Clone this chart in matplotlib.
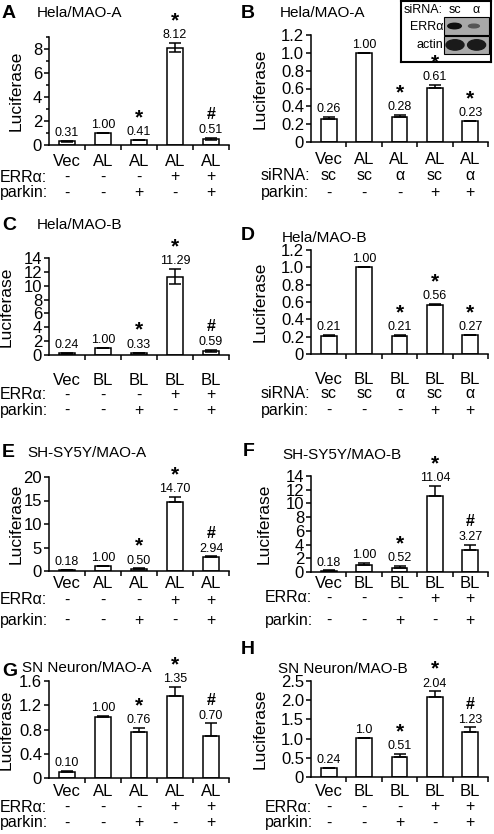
"""
Luciferase reporter panels A-H (MAO-A / MAO-B promoters), ERRalpha / parkin / siRNA.
Saves out.png at 494x834 px.
"""
import matplotlib.pyplot as plt
import matplotlib.transforms as mtrans
from matplotlib.patches import Rectangle, Ellipse
from matplotlib.ticker import FixedLocator

plt.rcParams['font.family'] = ['Liberation Sans', 'DejaVu Sans']

W, H = 494, 834

# ---- data ----
CAT_A = ["Vec", "AL", "AL", "AL", "AL"]
CAT_B = ["Vec", "BL", "BL", "BL", "BL"]
ERR_ROW = ["-", "-", "-", "+", "+"]
PARKIN_ROW = ["-", "-", "+", "-", "+"]
SIRNA_ROW = ["sc", "sc", "α", "sc", "α"]
PARKIN_SI_ROW = ["-", "-", "-", "+", "+"]

a_val = [0.31, 1.00, 0.41, 8.12, 0.51]
a_err = [0.05, 0.04, 0.03, 0.35, 0.08]
a_lab = ["0.31", "1.00", "0.41", "8.12", "0.51"]
a_sig = ["", "", "*", "*", "#"]

b_val = [0.26, 1.00, 0.28, 0.61, 0.23]
b_err = [0.02, 0.0, 0.02, 0.03, 0.004]
b_lab = ["0.26", "1.00", "0.28", "0.61", "0.23"]
b_sig = ["", "", "*", "*", "*"]

c_val = [0.24, 1.00, 0.33, 11.29, 0.59]
c_err = [0.03, 0.0, 0.03, 1.1, 0.1]
c_lab = ["0.24", "1.00", "0.33", "11.29", "0.59"]
c_sig = ["", "", "*", "*", "#"]

d_val = [0.21, 1.00, 0.21, 0.56, 0.22]
d_err = [0.01, 0.0, 0.01, 0.015, 0.004]
d_lab = ["0.21", "1.00", "0.21", "0.56", "0.27"]
d_sig = ["", "", "*", "*", "*"]

e_val = [0.18, 1.00, 0.50, 14.70, 2.90]
e_err = [0.05, 0.0, 0.05, 1.0, 0.2]
e_lab = ["0.18", "1.00", "0.50", "14.70", "2.94"]
e_sig = ["", "", "*", "*", "#"]

f_val = [0.18, 1.06, 0.58, 11.1, 3.28]
f_err = [0.05, 0.29, 0.29, 1.45, 0.68]
f_lab = ["0.18", "1.00", "0.52", "11.04", "3.27"]
f_sig = ["", "", "*", "*", "#"]

g_val = [0.10, 1.00, 0.76, 1.35, 0.70]
g_err = [0.02, 0.03, 0.07, 0.15, 0.20]
g_lab = ["0.10", "1.00", "0.76", "1.35", "0.70"]
g_sig = ["", "", "*", "*", "#"]

h_val = [0.245, 1.01, 0.52, 2.08, 1.16]
h_err = [0.0, 0.01, 0.09, 0.15, 0.13]
h_lab = ["0.24", "1.0", "0.51", "2.04", "1.23"]
h_sig = ["", "", "*", "*", "#"]

# ---- layout (pixels from top-left) ----
PANELS = [
    dict(letter="A", title="Hela/MAO-A", cats=CAT_A, h=a_val, e=a_err, lab=a_lab, sig=a_sig,
         both=True, rows=[("ERRα:", ERR_ROW), ("parkin:", PARKIN_ROW)],
         box=(49, 37, 229, 145), ymax=9, yticks=[0, 2, 4, 6, 8], minor=[1, 3, 5, 7, 9],
         ytl=["0", "2", "4", "6", "8"], ylab_x=24, let=(2, 13), tit=(37, 13),
         rowy=(162, 177, 193), rowx=0),
    dict(letter="B", title="Hela/MAO-A", cats=CAT_A, h=b_val, e=b_err, lab=b_lab, sig=b_sig,
         both=False, rows=[("siRNA:", SIRNA_ROW), ("parkin:", PARKIN_SI_ROW)],
         box=(311, 35, 488, 142), ymax=1.2, yticks=[0, .2, .4, .6, .8, 1.0, 1.2], minor=[],
         ytl=["0", "0.2", "0.4", "0.6", "0.8", "1.0", "1.2"], ylab_x=268, let=(241, 13),
         tit=(280, 13), rowy=(160, 176, 193), rowx=261),
    dict(letter="C", title="Hela/MAO-B", cats=CAT_B, h=c_val, e=c_err, lab=c_lab, sig=c_sig,
         both=True, rows=[("ERRα:", ERR_ROW), ("parkin:", PARKIN_ROW)],
         box=(49, 258, 229, 355), ymax=14, yticks=[0, 2, 4, 6, 8, 10, 12, 14], minor=[],
         ytl=["0", "2", "4", "6", "8", "10", "12", "14"], ylab_x=14, let=(2, 225),
         tit=(37, 225), rowy=(380, 395, 410), rowx=0),
    dict(letter="D", title="Hela/MAO-B", cats=CAT_B, h=d_val, e=d_err, lab=d_lab, sig=d_sig,
         both=False, rows=[("siRNA:", SIRNA_ROW), ("parkin:", PARKIN_SI_ROW)],
         box=(311, 250, 488, 354), ymax=1.2, yticks=[0, .2, .4, .6, .8, 1.0, 1.2], minor=[],
         ytl=["0", "0.2", "0.4", "0.6", "0.8", "1.0", "1.2"], ylab_x=268, let=(241, 235),
         tit=(282, 238), rowy=(379, 394, 410), rowx=261),
    dict(letter="E", title="SH-SY5Y/MAO-A", cats=CAT_A, h=e_val, e=e_err, lab=e_lab, sig=e_sig,
         both=False, rows=[("ERRα:", ERR_ROW), ("parkin:", PARKIN_ROW)],
         box=(49, 477, 229, 571), ymax=20, yticks=[0, 5, 10, 15, 20], minor=[],
         ytl=["0", "5", "10", "15", "20"], ylab_x=24, let=(2, 453), tit=(27, 453),
         rowy=(583, 600, 620), rowx=0),
    dict(letter="F", title="SH-SY5Y/MAO-B", cats=CAT_B, h=f_val, e=f_err, lab=f_lab, sig=f_sig,
         both=False, rows=[("ERRα:", ERR_ROW), ("parkin:", PARKIN_ROW)],
         box=(311, 476, 488, 572), ymax=14, yticks=[0, 2, 4, 6, 8, 10, 12, 14], minor=[],
         ytl=["0", "2", "4", "6", "8", "10", "12", "14"], ylab_x=272, let=(243, 451),
         tit=(282, 455), rowy=(583, 598, 620), rowx=265),
    dict(letter="G", title="SN Neuron/MAO-A", cats=CAT_A, h=g_val, e=g_err, lab=g_lab, sig=g_sig,
         both=False, rows=[("ERRα:", ERR_ROW), ("parkin:", PARKIN_ROW)],
         box=(49, 681, 229, 778), ymax=1.6, yticks=[0, .4, .8, 1.2, 1.6], minor=[],
         ytl=["0", "0.4", "0.8", "1.2", "1.6"], ylab_x=14, let=(2, 671), tit=(22, 668),
         rowy=(792, 807, 823), rowx=0),
    dict(letter="H", title="SN Neuron/MAO-B", cats=CAT_B, h=h_val, e=h_err, lab=h_lab, sig=h_sig,
         both=False, rows=[("ERRα:", ERR_ROW), ("parkin:", PARKIN_ROW)],
         box=(311, 681, 488, 777), ymax=2.5, yticks=[0, .5, 1.0, 1.5, 2.0, 2.5], minor=[],
         ytl=["0", "0.5", "1.0", "1.5", "2.0", "2.5"], ylab_x=268, let=(241, 650),
         tit=(278, 669), rowy=(792, 807, 823), rowx=265),
]

LW = 1.1
fig = plt.figure(figsize=(W / 100, H / 100), dpi=100)


def fx(px):
    return px / W


def fy(py):
    return 1 - py / H


for p in PANELS:
    x0, ytop, x1, ybot = p["box"]
    ax = fig.add_axes([fx(x0), fy(ybot), (x1 - x0) / W, (ybot - ytop) / H])
    ax.patch.set_visible(False)
    n = len(p["h"])
    xs = list(range(n))
    ax.bar(xs, p["h"], width=0.45, color="white", edgecolor="black", linewidth=LW, zorder=2)
    lower = p["e"] if p["both"] else [0] * n
    ax.errorbar(xs, p["h"], yerr=[lower, p["e"]], fmt="none", ecolor="black",
                elinewidth=LW, capsize=4.5, capthick=LW, zorder=3)

    # value labels and significance marks
    for i in xs:
        top = p["h"][i] + p["e"][i]
        ax.annotate(p["lab"][i], (i, top), xytext=(0, 3.5), textcoords="offset points",
                    ha="center", va="baseline", fontsize=9)
        s = p["sig"][i]
        if s == "*":
            ax.annotate("*", (i, top), xytext=(0, 12), textcoords="offset points",
                        ha="center", va="baseline", fontsize=15, fontweight="bold")
        elif s == "#":
            ax.annotate("#", (i, top), xytext=(0, 13.5), textcoords="offset points",
                        ha="center", va="baseline", fontsize=11.5, fontweight="bold")

    ax.set_xlim(-0.5, n - 0.5)
    ax.set_ylim(0, p["ymax"])
    ax.set_yticks(p["yticks"])
    ax.set_yticklabels(p["ytl"], fontsize=12)
    if p["minor"]:
        ax.yaxis.set_minor_locator(FixedLocator(p["minor"]))
    ax.set_xticks([])
    ax.xaxis.set_minor_locator(FixedLocator([i + 0.5 for i in xs]))
    ax.tick_params(axis="y", which="major", length=3.5, width=LW, pad=1.5)
    ax.tick_params(axis="y", which="minor", length=2.5, width=LW)
    ax.tick_params(axis="x", which="minor", length=3.5, width=LW)
    for sp in ("top", "right"):
        ax.spines[sp].set_visible(False)
    for sp in ("left", "bottom"):
        ax.spines[sp].set_linewidth(LW)
    ax.set_ylabel("Luciferase", fontsize=12.5)
    ax.yaxis.set_label_coords((p["ylab_x"] - x0) / (x1 - x0), 0.5)

    # category row and treatment rows
    tr = mtrans.blended_transform_factory(ax.transData, fig.transFigure)
    for i, c in enumerate(p["cats"]):
        fig.text(i, fy(p["rowy"][0]), c, transform=tr, ha="center", va="center", fontsize=12)
    for (name, vals), yy in zip(p["rows"], p["rowy"][1:]):
        fig.text(fx(p["rowx"]), fy(yy), name, ha="left", va="center", fontsize=11.5)
        for i, v in enumerate(vals):
            fig.text(i, fy(yy), v, transform=tr, ha="center", va="center", fontsize=11.5)

    fig.text(fx(p["let"][0]), fy(p["let"][1]), p["letter"], ha="left", va="center",
             fontsize=14, fontweight="bold")
    fig.text(fx(p["tit"][0]), fy(p["tit"][1]), p["title"], ha="left", va="center",
             fontsize=11)

# ---- western blot inset (panel B), kept under the bar annotations ----
ins = fig.add_axes([fx(401), fy(62), 90 / W, 61 / H])
ins.set_zorder(-1)
ins.set_xlim(0, 1)
ins.set_ylim(1, 0)
ins.set_xticks([])
ins.set_yticks([])
for sp in ins.spines.values():
    sp.set_linewidth(1.5)
ins.text(0.03, 0.14, "siRNA:", ha="left", va="center", fontsize=9)
ins.text(0.60, 0.14, "sc", ha="center", va="center", fontsize=9)
ins.text(0.84, 0.14, "α", ha="center", va="center", fontsize=9)
ins.text(0.47, 0.42, "ERRα", ha="right", va="center", fontsize=9)
ins.text(0.47, 0.72, "actin", ha="right", va="center", fontsize=9)
for y0 in (0.27, 0.58):
    ins.add_patch(Rectangle((0.48, y0), 0.50, 0.29, facecolor="#a9a9a9",
                            edgecolor="black", linewidth=0.8))
ins.add_patch(Ellipse((0.595, 0.41), 0.15, 0.09, color="#111111"))
ins.add_patch(Ellipse((0.81, 0.41), 0.12, 0.06, color="#555555"))
ins.add_patch(Ellipse((0.60, 0.72), 0.20, 0.17, color="#1a1a1a"))
ins.add_patch(Ellipse((0.84, 0.72), 0.20, 0.17, color="#1a1a1a"))

fig.savefig("out.png", dpi=100)
